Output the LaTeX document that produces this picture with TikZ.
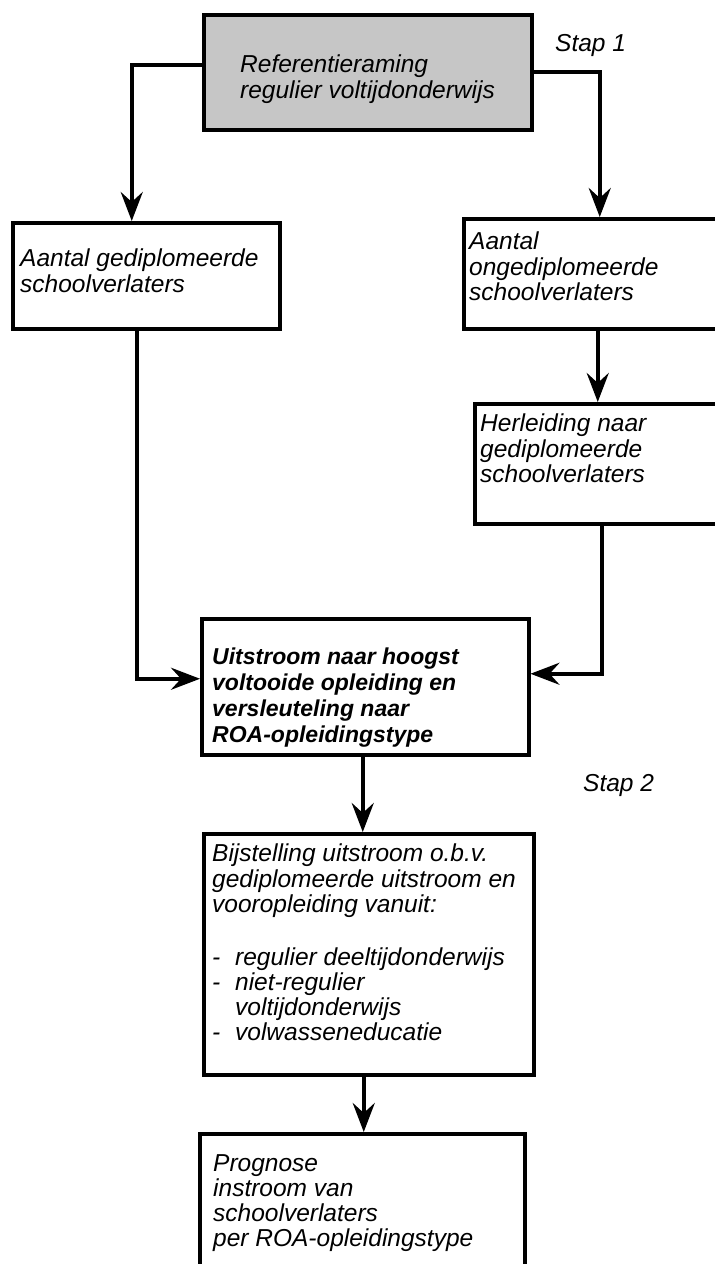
\documentclass[tikz,border=0pt]{standalone}
\usepackage{fontspec}
\setmainfont{Liberation Sans}
\usetikzlibrary{arrows.meta,calc}
\begin{document}
\begin{tikzpicture}[x=1pt,y=1pt,
  box/.style={draw, line width=3.5pt, inner sep=0pt, anchor=north west},
  conn/.style={line width=3.8pt, -{Stealth[length=29pt,width=22pt,inset=10pt]}},
  txt/.style={anchor=north west, inner sep=0pt, align=left, font=\fontsize{24.5}{25.2}\selectfont\itshape},
  btxt/.style={anchor=north west, inner sep=0pt, align=left, font=\fontsize{23}{26}\selectfont\bfseries\itshape},
]
\clip (0,0) rectangle (715,-1264);
\fill[white] (0,0) rectangle (715,-1264);
% boxes
\node[box, fill=gray!45, minimum width=328pt, minimum height=115pt] (top) at (202,-13) {};
\node[box, minimum width=267pt, minimum height=106pt] (lb) at (11,-221) {};
\node[box, minimum width=278pt, minimum height=110pt] (rb) at (462,-217) {};
\node[box, minimum width=267pt, minimum height=120pt] (hb) at (473,-402) {};
\node[box, minimum width=327pt, minimum height=136pt] (mid) at (200,-617) {};
\node[box, minimum width=330pt, minimum height=241pt] (bij) at (202,-832) {};
\node[box, minimum width=325pt, minimum height=170pt] (prog) at (198,-1132) {};
% texts
\node[txt] (topt) at (240,-55) {Referentieraming\\regulier voltijdonderwijs};
\node[txt] (s1) at (555,-34) {Stap 1};
\node[txt] (lt) at (20,-249) {Aantal gediplomeerde\\schoolverlaters};
\node[txt] (rt) at (469,-232) {Aantal\\ongediplomeerde\\schoolverlaters};
\node[txt] (ht) at (480,-414) {Herleiding naar\\gediplomeerde\\schoolverlaters};
\node[btxt] (mt) at (212,-648) {Uitstroom naar hoogst\\voltooide opleiding en\\versleuteling naar\\ROA-opleidingstype};
\node[txt] (s2) at (583,-774) {Stap 2};
\node[txt] (bt) at (212,-844) {Bijstelling uitstroom o.b.v.\\gediplomeerde uitstroom en\\vooropleiding vanuit:\\[27.5pt]\makebox[23pt][l]{-}regulier deeltijdonderwijs\\\makebox[23pt][l]{-}niet-regulier\\\hspace*{23pt}voltijdonderwijs\\\makebox[23pt][l]{-}volwasseneducatie};
\node[txt] (pt) at (213,-1154) {Prognose\\instroom van\\schoolverlaters\\per ROA-opleidingstype};
% connectors
\draw[conn] ($(top.west)+(0,7.5)$) -| ($(lb.north)+(-14.5,0)$);
\draw[conn] (top.east) -| ($(rb.north)+(-3,0)$);
\draw[conn] ($(lb.south)+(-9.5,0)$) |- ($(mid.west)+(0,8)$);
\draw[conn] ($(rb.south)+(-5,0)$) -- ($(hb.north)+(-10.5,0)$);
\draw[conn] ($(hb.south)+(-6.5,0)$) |- ($(mid.east)+(0,13)$);
\draw[conn] ($(mid.south)+(-2.5,0)$) -- ($(bij.north)+(-6,0)$);
\draw[conn] ($(bij.south)+(-5,0)$) -- ($(prog.north)+(1.5,0)$);
\end{tikzpicture}
\end{document}
